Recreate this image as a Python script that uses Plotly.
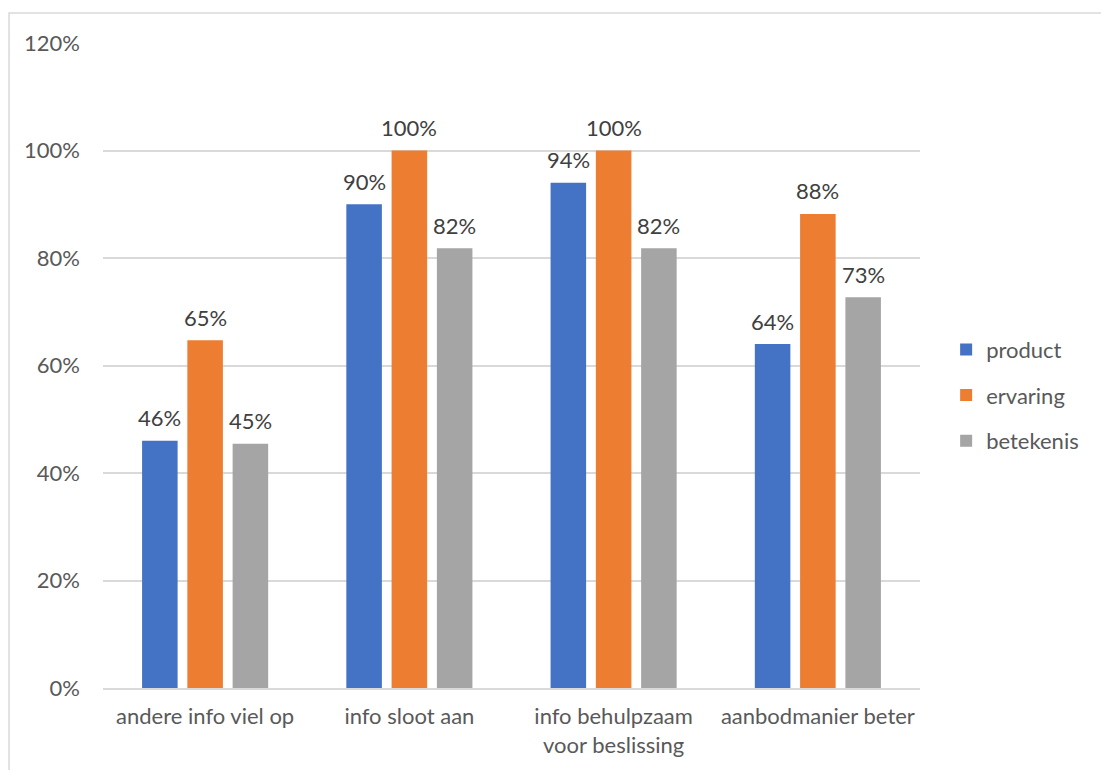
import plotly.graph_objects as go

categories = ["andere info viel op", "info sloot aan", "info behulpzaam<br>voor beslissing", "aanbodmanier beter"]
product = [0.46, 0.90, 0.94, 0.64]
ervaring = [0.647, 1.0, 1.0, 0.882]
betekenis = [0.4545, 0.818, 0.818, 0.727]
series = [("product", product, "#4472C4"), ("ervaring", ervaring, "#ED7D31"), ("betekenis", betekenis, "#A5A5A5")]
y_ticks = [0, 0.2, 0.4, 0.6, 0.8, 1.0, 1.2]

FONT = "Lato"
TXT = "#595959"
FS = 22

BARGAP = 0.335
L, R, T, B, W, H = 103, 181, 43, 82, 1101, 770
cat_w = (W - L - R) / len(categories)
slot = (1 - BARGAP) * cat_w / len(series)

fig = go.Figure()
annotations = []
for i, (name, vals, col) in enumerate(series):
    fig.add_trace(go.Bar(
        x=categories, y=vals, name=name, marker=dict(color=col, line=dict(width=0)),
        legendgroup=name,
    ))
    for c, v in zip(categories, vals):
        annotations.append(dict(
            x=c, y=v, xref="x", yref="y", text=f"{v:.0%}", showarrow=False,
            xshift=(i - 1) * slot, yshift=23, yanchor="middle",
            font=dict(family=FONT, size=FS, color="#404040"),
        ))

fig.update_layout(
    width=W, height=H,
    margin=dict(l=L, r=R, t=T, b=B),
    paper_bgcolor="white", plot_bgcolor="white",
    barmode="group", bargap=BARGAP, bargroupgap=0.215,
    font=dict(family=FONT, size=FS, color=TXT),
    showlegend=True,
    legend=dict(x=1.032, xanchor="left", y=0.454, yanchor="middle",
                font=dict(family=FONT, size=FS, color=TXT),
                tracegroupgap=14, itemwidth=30),
    annotations=annotations,
    shapes=[dict(type="rect", xref="paper", yref="paper", x0=-0.115, x1=1.4, y0=-0.4, y1=1.0465,
                 line=dict(color="#d9d9d9", width=1.5), fillcolor="rgba(0,0,0,0)", layer="below")],
)
fig.update_yaxes(range=[0, 1.2], tickvals=y_ticks, tickformat=".0%", showgrid=True,
                 gridcolor="#d9d9d9", gridwidth=1.5, zeroline=False, showline=False,
                 ticks="", ticklabelstandoff=22, tickfont=dict(family=FONT, size=FS, color=TXT))
fig.update_xaxes(showline=True, linecolor="#d9d9d9", linewidth=1.5, ticks="",
                 ticklabelstandoff=8, tickfont=dict(family=FONT, size=FS, color=TXT))

fig.write_html("out.html")
